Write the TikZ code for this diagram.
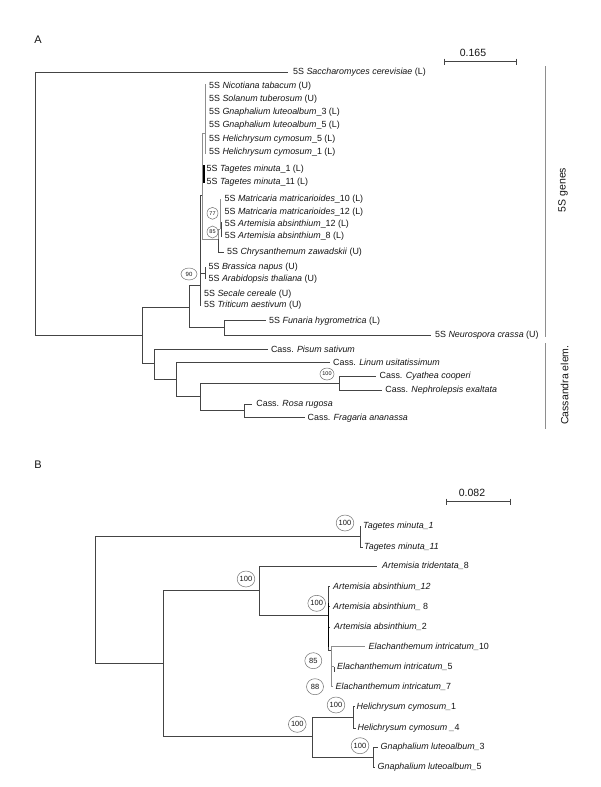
\documentclass[tikz,border=0pt]{standalone}
\usepackage{fontspec}
\setmainfont{Liberation Sans}
\usetikzlibrary{shapes.geometric,positioning}
\definecolor{lineC}{HTML}{444444}
\definecolor{lightC}{HTML}{8E8E8E}
\definecolor{txtC}{HTML}{161616}
\definecolor{bootC}{HTML}{707070}
\begin{document}
\begin{tikzpicture}[x=1pt,y=-1pt,
  br/.style={draw=lineC, line width=0.95pt},
  zl/.style={draw=lightC, line width=0.9pt},
  tk/.style={draw=black, line width=1.1pt},
  lab/.style={anchor=west, inner sep=0pt, text=txtC, font=\fontsize{8.9}{10}\selectfont},
  big/.style={inner sep=0pt, text=txtC, font=\fontsize{10.5}{12}\selectfont},
  bsA/.style={ellipse, draw=bootC, line width=0.5pt, inner sep=0pt, minimum width=11pt, minimum height=12pt, text=txtC, font=\fontsize{5.5}{6}\selectfont},
  bsB/.style={ellipse, draw=bootC, line width=0.5pt, inner sep=0pt, minimum width=17pt, minimum height=16pt, text=txtC, font=\fontsize{7.5}{8}\selectfont},
]
\useasboundingbox (0,0) rectangle (600,787);
\fill[white] (0,0) rectangle (600,787);

% ================= PANEL A =================
\node[big, font=\fontsize{11}{12}\selectfont] (pA) at (38,40) {A};
% scale bar
\coordinate (sa1) at (444,61.7); \coordinate (sa2) at (516,61.7);
\draw[br] (sa1) -- (sa2);
\draw[br] ([yshift=3.2pt]sa1) -- ([yshift=-3.2pt]sa1);
\draw[br] ([yshift=3.2pt]sa2) -- ([yshift=-3.2pt]sa2);
\node[big] (sla) at (473,52.5) {0.165};

% internal nodes
\coordinate (R) at (35,72);
\coordinate (Sacc) at (288,72);
\coordinate (N1) at (142,335);
\coordinate (N2) at (189,307);
\coordinate (N3) at (154,363);
\coordinate (NF) at (224,327.7);
\coordinate (Fun) at (266,320.7);
\coordinate (Neu) at (431,335);
\coordinate (N90) at (200,285);
\coordinate (NA) at (202.7,195);
\coordinate (G1) at (205,133);
\coordinate (M) at (218.3,239.3);
\coordinate (MM) at (220,229);
\coordinate (Chr) at (224,252);
\coordinate (NBr) at (205,273);
% zero-length leaves
\coordinate (Nic) at (205,86);
\coordinate (Sol) at (205,99.2);
\coordinate (Gn3) at (205,112.4);
\coordinate (Gn5) at (205,125.6);
\coordinate (He5) at (205,138.8);
\coordinate (He1) at (205,152);
\coordinate (Ta1) at (204,169.3);
\coordinate (Ta11) at (204,182);
\coordinate (Ma10) at (220,199.3);
\coordinate (Ma12) at (220,212.3);
\coordinate (Ar12) at (221.3,224);
\coordinate (Ar8) at (221.3,236);
\coordinate (Bra) at (205,267.3);
\coordinate (Ara) at (205,278.7);
\coordinate (Sec) at (200.5,293.7);
\coordinate (Tri) at (200.5,305);
% Cassandra
\coordinate (N4) at (176.3,379.3);
\coordinate (Pis) at (268.3,349);
\coordinate (Lin) at (330,362.5);
\coordinate (N5) at (200,396.7);
\coordinate (N6) at (339.3,383.3);
\coordinate (N7) at (244,410);
\coordinate (Cya) at (376,376);
\coordinate (Nep) at (381.7,390);
\coordinate (Ros) at (251.7,404);
\coordinate (Fra) at (305,417.7);

% edges
\draw[br] (R) |- (Sacc);
\draw[br] (R) |- (N1);
\draw[br] (N1) |- (N2);
\draw[br] (N1) |- (N3);
\draw[br] (N2) |- (N90);
\draw[br] (N2) |- (NF);
\draw[br] (NF) |- (Fun);
\draw[br] (NF) |- (Neu);
\draw[br] (N90) |- (NA);
\draw[br] (N90) |- (NBr);
\draw[br] (N90) |- (Sec);
\draw[br] (N90) |- (Tri);
\draw[zl] (NA) |- (G1);
\draw[zl] (NA) |- (M);
\draw[zl] ([yshift=2pt]Nic) -- ([yshift=-2pt]He1);
\draw[tk] ([yshift=4pt]Ta1) -- ([yshift=-1pt]Ta11);
\draw[zl] (M) |- (MM);
\draw[br] (M) |- (Chr);
\draw[zl] (MM) |- (Ma10);
\draw[zl] (MM) |- (Ma12);
\draw[tk, draw=lineC] ([yshift=2pt]Ar12) -- ([yshift=-1pt]Ar8);
\draw[br] (NBr) |- (Bra);
\draw[br] (NBr) |- (Ara);
\draw[br] (N3) |- (Pis);
\draw[br] (N3) |- (N4);
\draw[br] (N4) |- (Lin);
\draw[br] (N4) |- (N5);
\draw[br] (N5) |- (N6);
\draw[br] (N5) |- (N7);
\draw[br] (N6) |- (Cya);
\draw[br] (N6) |- (Nep);
\draw[br] (N7) |- (Ros);
\draw[br] (N7) |- (Fra);

% labels
\node[lab, right=5pt of Sacc] (lSacc) {5S \textit{Saccharomyces cerevisiae} (L)};
\node[lab, right=4pt of Nic] (lNic) {5S \textit{Nicotiana tabacum} (U)};
\node[lab, right=4pt of Sol] (lSol) {5S \textit{Solanum tuberosum} (U)};
\node[lab, right=4pt of Gn3] (lGn3) {5S \textit{Gnaphalium luteoalbum}\_3 (L)};
\node[lab, right=4pt of Gn5] (lGn5) {5S \textit{Gnaphalium luteoalbum}\_5 (L)};
\node[lab, right=4pt of He5] (lHe5) {5S \textit{Helichrysum cymosum}\_5 (L)};
\node[lab, right=4pt of He1] (lHe1) {5S \textit{Helichrysum cymosum}\_1 (L)};
\node[lab, right=2.5pt of Ta1] (lTa1) {5S \textit{Tagetes minuta}\_1 (L)};
\node[lab, right=2.5pt of Ta11] (lTa11) {5S \textit{Tagetes minuta}\_11 (L)};
\node[lab, right=4.5pt of Ma10] (lMa10) {5S \textit{Matricaria matricarioides}\_10 (L)};
\node[lab, right=4.5pt of Ma12] (lMa12) {5S \textit{Matricaria matricarioides}\_12 (L)};
\node[lab, right=3.3pt of Ar12] (lAr12) {5S \textit{Artemisia absinthium}\_12 (L)};
\node[lab, right=3.3pt of Ar8] (lAr8) {5S \textit{Artemisia absinthium}\_8 (L)};
\node[lab, right=3pt of Chr] (lChr) {5S \textit{Chrysanthemum zawadskii} (U)};
\node[lab, right=3.5pt of Bra] (lBra) {5S \textit{Brassica napus} (U)};
\node[lab, right=3.5pt of Ara] (lAra) {5S \textit{Arabidopsis thaliana} (U)};
\node[lab, right=3.5pt of Sec] (lSec) {5S \textit{Secale cereale} (U)};
\node[lab, right=3.5pt of Tri] (lTri) {5S \textit{Triticum aestivum} (U)};
\node[lab, right=3pt of Fun] (lFun) {5S \textit{Funaria hygrometrica} (L)};
\node[lab, right=4pt of Neu] (lNeu) {5S \textit{Neurospora crassa} (U)};
\node[lab, right=2.5pt of Pis] (lPis) {Cass. \textit{Pisum sativum}};
\node[lab, right=3pt of Lin] (lLin) {Cass. \textit{Linum usitatissimum}};
\node[lab, right=3.5pt of Cya] (lCya) {Cass. \textit{Cyathea cooperi}};
\node[lab, right=3.5pt of Nep] (lNep) {Cass. \textit{Nephrolepsis exaltata}};
\node[lab, right=4.5pt of Ros] (lRos) {Cass. \textit{Rosa rugosa}};
\node[lab, right=2.5pt of Fra] (lFra) {Cass. \textit{Fragaria ananassa}};

% bootstrap
\node[bsA] (b77) at (212.5,213.3) {77};
\node[bsA] (b85) at (212.5,232) {85};
\node[bsA, minimum width=16pt, font=\fontsize{6}{7}\selectfont] (b90) at (189,274) {90};
\node[bsA, minimum width=14pt] (b100a) at (327,374) {100};

% brackets
\coordinate (g1) at (545,66); \coordinate (g2) at (545,336.5);
\coordinate (c1) at (545,343); \coordinate (c2) at (545,429);
\draw[zl, line width=0.8pt] (g1) -- (g2);
\draw[zl, line width=0.8pt] (c1) -- (c2);
\node[big, rotate=90] (tg) at (563,190) {5S genes};
\node[big, rotate=90] (tc) at (564.5,385) {Cassandra elem.};

% ================= PANEL B =================
\node[big, font=\fontsize{11}{12}\selectfont] (pB) at (38,465) {B};
\coordinate (sb1) at (446,501.7); \coordinate (sb2) at (510,501.7);
\draw[br] (sb1) -- (sb2);
\draw[br] ([yshift=3.2pt]sb1) -- ([yshift=-3.2pt]sb1);
\draw[br] ([yshift=3.2pt]sb2) -- ([yshift=-3.2pt]sb2);
\node[big] (slb) at (472,492.5) {0.082};

\coordinate (RB) at (95,536);
\coordinate (NTg) at (360,536);
\coordinate (Tg1) at (360,526);
\coordinate (Tg11) at (363,547);
\coordinate (NB1) at (163,663);
\coordinate (NB2) at (259,590.7);
\coordinate (NB3) at (312.3,736.7);
\coordinate (Att) at (377,566);
\coordinate (NB4) at (328.3,615);
\coordinate (AA12) at (329.5,586.7);
\coordinate (AA8) at (329.5,606.7);
\coordinate (AA2) at (329.5,627.3);
\coordinate (NE) at (331.8,650);
\coordinate (El10) at (365,646.7);
\coordinate (El5) at (334,666.7);
\coordinate (El7) at (332.5,686.7);
\coordinate (NH) at (353.3,717.3);
\coordinate (Hc1) at (354.5,706.7);
\coordinate (Hc4) at (355.5,728.3);
\coordinate (NG) at (373.3,757.3);
\coordinate (Gl3) at (378,747.3);
\coordinate (Gl5) at (374.5,767.3);
\coordinate (Bk1) at (328.3,603);
\coordinate (Bk2) at (328.3,647);

\draw[br] (RB) |- (NTg);
\draw[br] (RB) |- (NB1);
\draw[br] (NTg) |- (Tg1);
\draw[br] (NTg) |- (Tg11);
\draw[br] (NB1) |- (NB2);
\draw[br] (NB1) |- (NB3);
\draw[br] (NB2) |- (Att);
\draw[br] (NB2) |- (NB4);
\draw[br] (NB4) |- (AA12);
\draw[br] (NB4) |- (AA8);
\draw[br] (NB4) |- (AA2);
\draw[br] (NB4) |- (NE);
\draw[tk] (Bk1) -- (Bk2);
\draw[zl] (NE) |- (El10);
\draw[zl] (NE) |- (El5);
\draw[zl] (NE) |- (El7);
\draw[br] ([yshift=-5pt]El5) -- (El5);
\draw[br] (NB3) |- (NH);
\draw[br] (NB3) |- (NG);
\draw[br] (NH) |- (Hc1);
\draw[br] (NH) |- (Hc4);
\draw[br] (NG) |- (Gl3);
\draw[br] (NG) |- (Gl5);

\node[lab, right=3pt of Tg1] (lTg1) {\textit{Tagetes minuta\_1}};
\node[lab, right=1pt of Tg11] (lTg11) {\textit{Tagetes minuta\_11}};
\node[lab, right=5pt of Att] (lAtt) {\textit{Artemisia tridentata\_}8};
\node[lab, right=3.5pt of AA12] (lAA12) {\textit{Artemisia absinthium\_12}};
\node[lab, right=3.5pt of AA8] (lAA8) {\textit{Artemisia absinthium\_} 8};
\node[lab, right=4.5pt of AA2] (lAA2) {\textit{Artemisia absinthium\_}2};
\node[lab, right=3.5pt of El10] (lEl10) {\textit{Elachanthemum intricatum\_}10};
\node[lab, right=3pt of El5] (lEl5) {\textit{Elachanthemum intricatum\_}5};
\node[lab, right=3pt of El7] (lEl7) {\textit{Elachanthemum intricatum\_}7};
\node[lab, right=2pt of Hc1] (lHc1) {\textit{Helichrysum cymosum\_}1};
\node[lab, right=2pt of Hc4] (lHc4) {\textit{Helichrysum cymosum \_}4};
\node[lab, right=2.5pt of Gl3] (lGl3) {\textit{Gnaphalium luteoalbum\_}3};
\node[lab, right=3pt of Gl5] (lGl5) {\textit{Gnaphalium luteoalbum\_}5};

\node[bsB] (c1b) at (345,523) {100};
\node[bsB] (c2b) at (246,579) {100};
\node[bsB] (c3b) at (316.7,603.3) {100};
\node[bsB] (c4b) at (313.3,660.7) {85};
\node[bsB] (c5b) at (315,686.7) {88};
\node[bsB] (c6b) at (336,705) {100};
\node[bsB] (c7b) at (297.3,724.3) {100};
\node[bsB] (c8b) at (360,745.7) {100};
\end{tikzpicture}
\end{document}
